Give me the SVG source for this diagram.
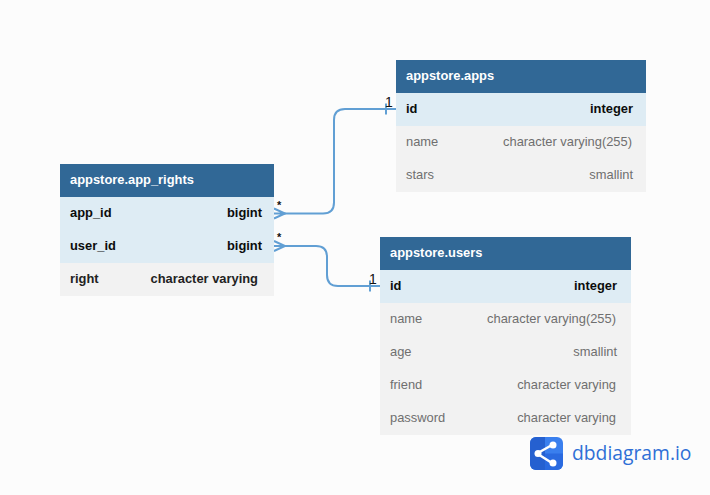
<svg xmlns="http://www.w3.org/2000/svg" width="710" height="495" viewBox="0 0 710 495">
<style>
text{font-family:"Liberation Sans",Arial,sans-serif;font-size:12.9px}
.h{fill:#316896}.k{fill:#deecf4}.r{fill:#f2f2f2}
.t{fill:#fff;font-weight:700}
.kt{fill:#0c0c0c;font-weight:700}
.rt{fill:#6f6f6f}
.e{text-anchor:end}
.c{fill:none;stroke:#619fd4;stroke-width:2}
.m{fill:#111;font-size:14px}
.s{fill:#111;font-size:11px;font-weight:700}
</style>
<rect width="710" height="495" fill="#fcfcfc"/>
<g id="connectors">
<path class="c" d="M284 213.500H323Q334 213.500 334 202.500V120Q334 109 345 109H396"/>
<path class="c" d="M274 208.500L285 213.500L274 218.500M274 213.500H285M386 103.500V114.500"/>
<path class="c" d="M284 246H316Q327 246 327 257V275Q327 286 338 286H380"/>
<path class="c" d="M274 241L285 246L274 251M274 246H285M370 280.500V291.500"/>
<text class="s" x="277" y="209">*</text>
<text class="s" x="277" y="241">*</text>
<text class="m" x="385" y="107">1</text>
<text class="m" x="369" y="284">1</text>
</g>
<g id="app_rights">
<rect class="h" x="60" y="164" width="214" height="33"/>
<rect class="k" x="60" y="197" width="214" height="66"/>
<rect class="r" x="60" y="263" width="214" height="33"/>
<text class="t" x="70" y="184">appstore.app_rights</text>
<text class="kt" x="70" y="217">app_id</text><text class="kt e" x="262" y="217">bigint</text>
<text class="kt" x="70" y="250">user_id</text><text class="kt e" x="262" y="250">bigint</text>
<text class="kt" x="70" y="283" style="fill:#222">right</text><text class="kt e" x="258" y="283" style="fill:#222">character varying</text>
</g>
<g id="apps">
<rect class="h" x="396" y="60" width="250" height="33"/>
<rect class="k" x="396" y="93" width="250" height="33"/>
<rect class="r" x="396" y="126" width="250" height="66"/>
<text class="t" x="406" y="80">appstore.apps</text>
<text class="kt" x="406" y="113">id</text><text class="kt e" x="633" y="113">integer</text>
<text class="rt" x="406" y="146">name</text><text class="rt e" x="632" y="146">character varying(255)</text>
<text class="rt" x="406" y="179">stars</text><text class="rt e" x="633" y="179">smallint</text>
</g>
<g id="users">
<rect class="h" x="380" y="237" width="251" height="33"/>
<rect class="k" x="380" y="270" width="251" height="33"/>
<rect class="r" x="380" y="303" width="251" height="132"/>
<text class="t" x="390" y="257">appstore.users</text>
<text class="kt" x="390" y="290">id</text><text class="kt e" x="617" y="290">integer</text>
<text class="rt" x="390" y="323">name</text><text class="rt e" x="616" y="323">character varying(255)</text>
<text class="rt" x="390" y="356">age</text><text class="rt e" x="617" y="356">smallint</text>
<text class="rt" x="390" y="389">friend</text><text class="rt e" x="616" y="389">character varying</text>
<text class="rt" x="390" y="422">password</text><text class="rt e" x="616" y="422">character varying</text>
</g>
<g id="logo">
<rect x="530" y="437" width="33" height="33" rx="6" fill="#3a7fee"/>
<path d="M530 443a6 6 0 0 1 6-6h9v33h-9a6 6 0 0 1-6-6z" fill="#2560d0"/>
<path d="M545 453.500h18v10.500a6 6 0 0 1-6 6h-12z" fill="#2a6ae0"/>
<path d="M537 453.500L552 445M537 453.500L552 463" stroke="#fff" stroke-width="2.500" fill="none"/>
<circle cx="538" cy="453.500" r="3.500" fill="#fff"/><circle cx="553" cy="445" r="3.500" fill="#fff"/><circle cx="553" cy="463" r="3.500" fill="#fff"/>
<text x="572" y="460" style="font-family:'Open Sans',sans-serif;font-size:19.3px;fill:#2f6fd6">dbdiagram.io</text>
</g>
</svg>
